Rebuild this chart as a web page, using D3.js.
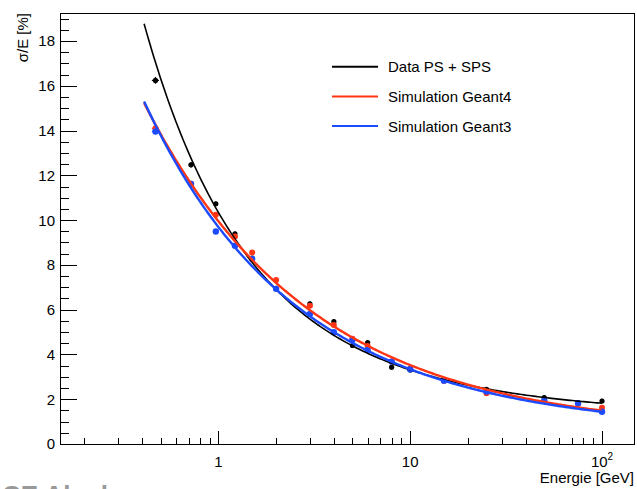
<!DOCTYPE html>
<html>
<head>
<meta charset="utf-8">
<script src="https://cdn.jsdelivr.net/npm/d3@7"></script>
<style>
  html, body { margin: 0; padding: 0; background: #fff; }
  svg { display: block; font-family: "Liberation Sans", Arial, Helvetica, sans-serif; }
</style>
</head>
<body>
<svg id="chart" width="637" height="489"></svg>
<script>
'use strict'

const energies = [0.47, 0.72, 0.97, 1.22, 1.5, 2, 3, 4, 5, 6, 8, 10, 15, 25, 50, 75, 100]
const energyErr = [0.02, 0.02, 0.02, 0.02, 0.02, 0.02, 0.02, 0.02, 0.02, 0.02, 0.02, 0.02, 0.02, 0.02, 0.02, 0.02, 0.02]

const dataPsSps = [16.24, 12.47, 10.73, 9.39, 8.3, 6.95, 6.26, 5.47, 4.40, 4.53, 3.43, 3.31, 2.85, 2.44, 2.07, 1.85, 1.92]
const dataErr = [0.15, 0.12, 0.1, 0.1, 0.1, 0.1, 0.1, 0.1, 0.1, 0.1, 0.1, 0.1, 0.1, 0.1, 0.1, 0.1, 0.1]
const geant4 = [14.10, 11.62, 10.24, 9.27, 8.55, 7.33, 6.17, 5.32, 4.70, 4.38, 3.68, 3.36, 2.83, 2.27, 1.92, 1.80, 1.62]
const geant4Err = [0.1, 0.1, 0.1, 0.1, 0.1, 0.1, 0.1, 0.1, 0.1, 0.1, 0.1, 0.1, 0.1, 0.1, 0.1, 0.1, 0.1]
const geant3 = [13.96, 11.62, 9.49, 8.86, 8.27, 6.93, 5.81, 4.99, 4.65, 4.20, 3.68, 3.34, 2.83, 2.34, 1.94, 1.82, 1.44]
const geant3Err = [0.1, 0.1, 0.1, 0.1, 0.1, 0.1, 0.1, 0.1, 0.1, 0.1, 0.1, 0.1, 0.1, 0.1, 0.1, 0.1, 0.1]

// fit sigma/E = a / sqrt(E) + b + c / E
const fitRange = [0.41, 100]
const fitData = [5.32, 1.25, 3.777]
const fitGeant4 = [9.4, 0.55, 0]
const fitGeant3 = [8.556, 0.579, 0.558]

const legendLabels = ['Data PS + SPS', 'Simulation Geant4', 'Simulation Geant3']
const yTicks = [0, 2, 4, 6, 8, 10, 12, 14, 16, 18]
const xMajorTicks = [1, 10, 100]
const xMinorTicks = [0.2, 0.3, 0.4, 0.5, 0.6, 0.7, 0.8, 0.9, 2, 3, 4, 5, 6, 7, 8, 9, 20, 30, 40, 50, 60, 70, 80, 90]

const series = [
  { name: legendLabels[0], values: dataPsSps, err: dataErr, fit: fitData, color: '#000000', width: 1.6, r: 2.6 },
  { name: legendLabels[1], values: geant4, err: geant4Err, fit: fitGeant4, color: '#ff3514', width: 2.4, r: 3 },
  { name: legendLabels[2], values: geant3, err: geant3Err, fit: fitGeant3, color: '#1c4bff', width: 2.4, r: 3.2 }
]

const margin = { left: 60, right: 634, top: 13, bottom: 444 }

const x = d3.scaleLog().domain([0.1494, 146.8]).range([margin.left, margin.right])
const y = d3.scaleLinear().domain([0, 19.25]).range([margin.bottom, margin.top])

const svg = d3.select('#chart')

const fitCurve = (p) => {
  const lx = d3.scaleLog().domain(fitRange)
  return d3.range(0, 201).map((i) => {
    const e = lx.invert(i / 200)
    return [e, p[0] / Math.sqrt(e) + p[1] + p[2] / e]
  })
}

const line = d3.line().x((d) => x(d[0])).y((d) => y(d[1]))

// points first, fits on top like the reference
series.forEach((s) => {
  const g = svg.append('g').attr('stroke', s.color).attr('fill', s.color)
  g.selectAll('line.ey')
    .data(s.values)
    .enter()
    .append('line')
    .attr('x1', (d, i) => x(energies[i]))
    .attr('x2', (d, i) => x(energies[i]))
    .attr('y1', (d, i) => y(d - s.err[i]))
    .attr('y2', (d, i) => y(d + s.err[i]))
    .attr('stroke-width', 1.2)
  g.selectAll('line.ex')
    .data(s.values)
    .enter()
    .append('line')
    .attr('x1', (d, i) => x(energies[i] - energyErr[i]))
    .attr('x2', (d, i) => x(energies[i] + energyErr[i]))
    .attr('y1', (d) => y(d))
    .attr('y2', (d) => y(d))
    .attr('stroke-width', 1.2)
  g.selectAll('circle')
    .data(s.values)
    .enter()
    .append('circle')
    .attr('cx', (d, i) => x(energies[i]))
    .attr('cy', (d) => y(d))
    .attr('r', s.r)
    .attr('stroke', 'none')
})

series.forEach((s) => {
  svg.append('path')
    .attr('d', line(fitCurve(s.fit)))
    .attr('fill', 'none')
    .attr('stroke', s.color)
    .attr('stroke-width', s.width)
})

// frame
svg.append('rect')
  .attr('x', margin.left + 0.5)
  .attr('y', margin.top + 0.5)
  .attr('width', margin.right - margin.left)
  .attr('height', margin.bottom - margin.top)
  .attr('fill', 'none')
  .attr('stroke', '#000')
  .attr('stroke-width', 1)

// y axis ticks
const axes = svg.append('g').attr('stroke', '#000').attr('stroke-width', 1).attr('shape-rendering', 'crispEdges')
axes.selectAll('line.ymin')
  .data(d3.range(0, 19.01, 0.5))
  .enter()
  .append('line')
  .attr('x1', margin.left)
  .attr('x2', (d) => margin.left + (d % 2 === 0 ? 17 : 9))
  .attr('y1', (d) => Math.round(y(d)) + 0.5)
  .attr('y2', (d) => Math.round(y(d)) + 0.5)

svg.selectAll('text.ylab')
  .data(yTicks)
  .enter()
  .append('text')
  .attr('x', 55)
  .attr('y', (d) => y(d))
  .attr('dy', '0.36em')
  .attr('text-anchor', 'end')
  .attr('font-size', 15)
  .text((d) => d)

// x axis ticks
axes.selectAll('line.xmaj')
  .data(xMajorTicks)
  .enter()
  .append('line')
  .attr('x1', (d) => Math.round(x(d)) + 0.5)
  .attr('x2', (d) => Math.round(x(d)) + 0.5)
  .attr('y1', margin.bottom)
  .attr('y2', margin.bottom - 13)

axes.selectAll('line.xmin')
  .data(xMinorTicks)
  .enter()
  .append('line')
  .attr('x1', (d) => Math.round(x(d)) + 0.5)
  .attr('x2', (d) => Math.round(x(d)) + 0.5)
  .attr('y1', margin.bottom)
  .attr('y2', margin.bottom - 6)

const xlab = svg.selectAll('text.xlab')
  .data(xMajorTicks)
  .enter()
  .append('text')
  .attr('x', (d) => x(d))
  .attr('y', 467)
  .attr('text-anchor', 'middle')
  .attr('font-size', 15)

xlab.each(function (d) {
  const t = d3.select(this)
  if (d < 100) {
    t.text(d)
  } else {
    t.append('tspan').text('10')
    t.append('tspan').attr('font-size', 10).attr('dy', -7).text('2')
  }
})

// axis titles
svg.append('text')
  .attr('x', margin.right)
  .attr('y', 483)
  .attr('text-anchor', 'end')
  .attr('font-size', 15)
  .text('Energie [GeV]')

svg.append('text')
  .attr('transform', `translate(28, ${margin.top}) rotate(-90)`)
  .attr('text-anchor', 'end')
  .attr('font-size', 15)
  .text('σ/E [%]')

// legend
const legend = svg.append('g')
series.forEach((s, i) => {
  const ly = 66.7 + i * 29.7
  legend.append('line')
    .attr('x1', 332)
    .attr('x2', 378)
    .attr('y1', ly)
    .attr('y2', ly)
    .attr('stroke', s.color)
    .attr('stroke-width', 2)
  legend.append('text')
    .attr('x', 388)
    .attr('y', ly)
    .attr('dy', '0.36em')
    .attr('font-size', 15)
    .text(s.name)
})

// cut-off watermark at the bottom edge
svg.append('text')
  .attr('x', 2)
  .attr('y', 504)
  .attr('font-size', 26)
  .attr('font-weight', 'bold')
  .attr('fill', '#999')
  .text('CE Alsol')
</script>
</body>
</html>
